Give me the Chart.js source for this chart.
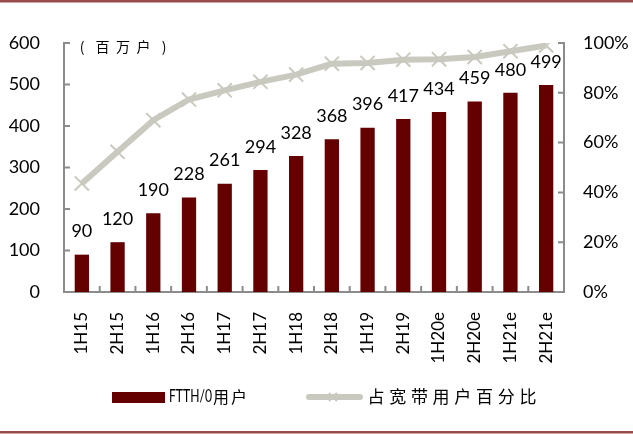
<!DOCTYPE html>
<html>
<head>
<meta charset="utf-8">
<script src="https://cdn.jsdelivr.net/npm/chart.js@4.4.0/dist/chart.umd.min.js"></script>
<style>
  html, body { margin: 0; padding: 0; background: #fff; }
  #wrap { width: 633px; height: 434px; position: relative; }
</style>
</head>
<body>
<div id="wrap"><canvas id="myChart"></canvas></div>
<script>
// data
var periods = ["1H15", "2H15", "1H16", "2H16", "1H17", "2H17", "1H18", "2H18", "1H19", "2H19", "1H20e", "2H20e", "1H21e", "2H21e"];
var ftthUsers = [90, 120, 190, 228, 261, 294, 328, 368, 396, 417, 434, 459, 480, 499];
var broadbandShare = [0.436, 0.563, 0.69, 0.773, 0.81, 0.844, 0.873, 0.917, 0.92, 0.933, 0.935, 0.944, 0.967, 0.99];
var leftTicks = [0, 100, 200, 300, 400, 500, 600];
var rightTicks = [0, 0.2, 0.4, 0.6, 0.8, 1.0];

var barColor = "#650000";
var lineColor = "#c9c9bf";
var axisColor = "#8c8c8c";
var latin = "Lato, 'Noto Sans', sans-serif";
var cjk = "'Noto Sans CJK SC', sans-serif";

// inward ticks, value labels, unit text, legend, frame lines
var decor = {
  id: "decor",
  afterDraw: function (chart) {
    var c = chart.ctx;
    var xs = chart.scales.x, yl = chart.scales.y, yr = chart.scales.y1;
    var area = chart.chartArea;
    c.save();

    // frame lines top and bottom
    c.fillStyle = "#9a4c4c";
    c.fillRect(0, 0, chart.width, 2.5);
    c.fillRect(0, 431, chart.width, 2.5);

    // inward tick marks
    c.strokeStyle = axisColor;
    c.lineWidth = 2;
    c.beginPath();
    leftTicks.forEach(function (v) {
      var y = yl.getPixelForValue(v);
      c.moveTo(area.left, y); c.lineTo(area.left + 6, y);
    });
    rightTicks.forEach(function (v) {
      var y = yr.getPixelForValue(v);
      c.moveTo(area.right, y); c.lineTo(area.right - 6, y);
    });
    for (var i = 1; i < periods.length; i++) {
      var x = (xs.getPixelForValue(i - 1) + xs.getPixelForValue(i)) / 2;
      c.moveTo(x, area.bottom); c.lineTo(x, area.bottom - 6);
    }
    c.stroke();

    // value labels above bars
    var meta = chart.getDatasetMeta(1);
    c.fillStyle = "#000";
    c.font = "18px " + latin;
    c.textAlign = "center";
    c.textBaseline = "middle";
    meta.data.forEach(function (el, i) {
      c.fillText(String(ftthUsers[i]), el.x, el.y - 23, 34);
    });

    // unit text
    c.font = "14px " + cjk;
    ["(", "百", "万", "户", ")"].forEach(function (ch, i) {
      c.fillText(ch, 82 + i * 20.5, 47);
    });

    // legend: bars
    c.fillStyle = barColor;
    c.fillRect(112, 392, 53, 11);
    c.fillStyle = "#000";
    c.textAlign = "left";
    c.font = "17px " + latin;
    c.fillText("FTTH/0", 169, 397, 43);
    c.textAlign = "center";
    c.font = "16px " + cjk;
    c.fillText("用", 221, 397);
    c.fillText("户", 239, 397);

    // legend: line
    c.strokeStyle = lineColor;
    c.lineWidth = 6;
    c.lineCap = "round";
    c.beginPath();
    c.moveTo(309, 397); c.lineTo(360, 397);
    c.stroke();
    c.lineWidth = 2;
    c.lineCap = "butt";
    c.beginPath();
    c.moveTo(329, 393); c.lineTo(337, 401);
    c.moveTo(337, 393); c.lineTo(329, 401);
    c.stroke();
    c.fillStyle = "#000";
    c.font = "17px " + cjk;
    "占宽带用户百分比".split("").forEach(function (ch, i) {
      c.fillText(ch, 376 + i * 21.7, 397);
    });

    c.restore();
  }
};

var ctx = "myChart";
var myChart = new Chart(ctx, {
  type: "bar",
  data: {
    labels: periods,
    datasets: [
      {
        type: "line",
        label: "占宽带用户百分比",
        data: broadbandShare,
        yAxisID: "y1",
        borderColor: lineColor,
        backgroundColor: lineColor,
        borderWidth: 6,
        tension: 0,
        pointStyle: "crossRot",
        pointRadius: 10,
        pointBorderWidth: 2,
        pointBorderColor: lineColor,
        order: 0
      },
      {
        type: "bar",
        label: "FTTH/0用户",
        data: ftthUsers,
        yAxisID: "y",
        backgroundColor: barColor,
        categoryPercentage: 1,
        barPercentage: 0.4,
        order: 1
      }
    ]
  },
  options: {
    responsive: true,
    maintainAspectRatio: false,
    animation: false,
    layout: { padding: { top: 43, left: 0, right: 0, bottom: 0 } },
    plugins: {
      legend: { display: false },
      tooltip: { enabled: false }
    },
    scales: {
      x: {
        offset: true,
        grid: { display: false },
        border: { display: true, color: axisColor, width: 2 },
        ticks: {
          color: "#000",
          font: { family: latin, size: 17 },
          minRotation: 90,
          maxRotation: 90,
          padding: 12
        },
        afterFit: function (s) { s.height = 142; }
      },
      y: {
        position: "left",
        min: 0,
        max: 600,
        grid: { display: false },
        border: { display: true, color: axisColor, width: 2 },
        ticks: {
          stepSize: 100,
          color: "#000",
          font: { family: latin, size: 18 },
          padding: 16
        },
        afterFit: function (s) { s.width = 64; }
      },
      y1: {
        position: "right",
        min: 0,
        max: 1,
        grid: { display: false },
        border: { display: true, color: axisColor, width: 2 },
        ticks: {
          stepSize: 0.2,
          color: "#000",
          font: { family: latin, size: 18 },
          padding: 11,
          callback: function (v) { return Math.round(v * 100) + "%"; }
        },
        afterFit: function (s) { s.width = 69; }
      }
    }
  },
  plugins: [decor]
});
</script>
</body>
</html>
